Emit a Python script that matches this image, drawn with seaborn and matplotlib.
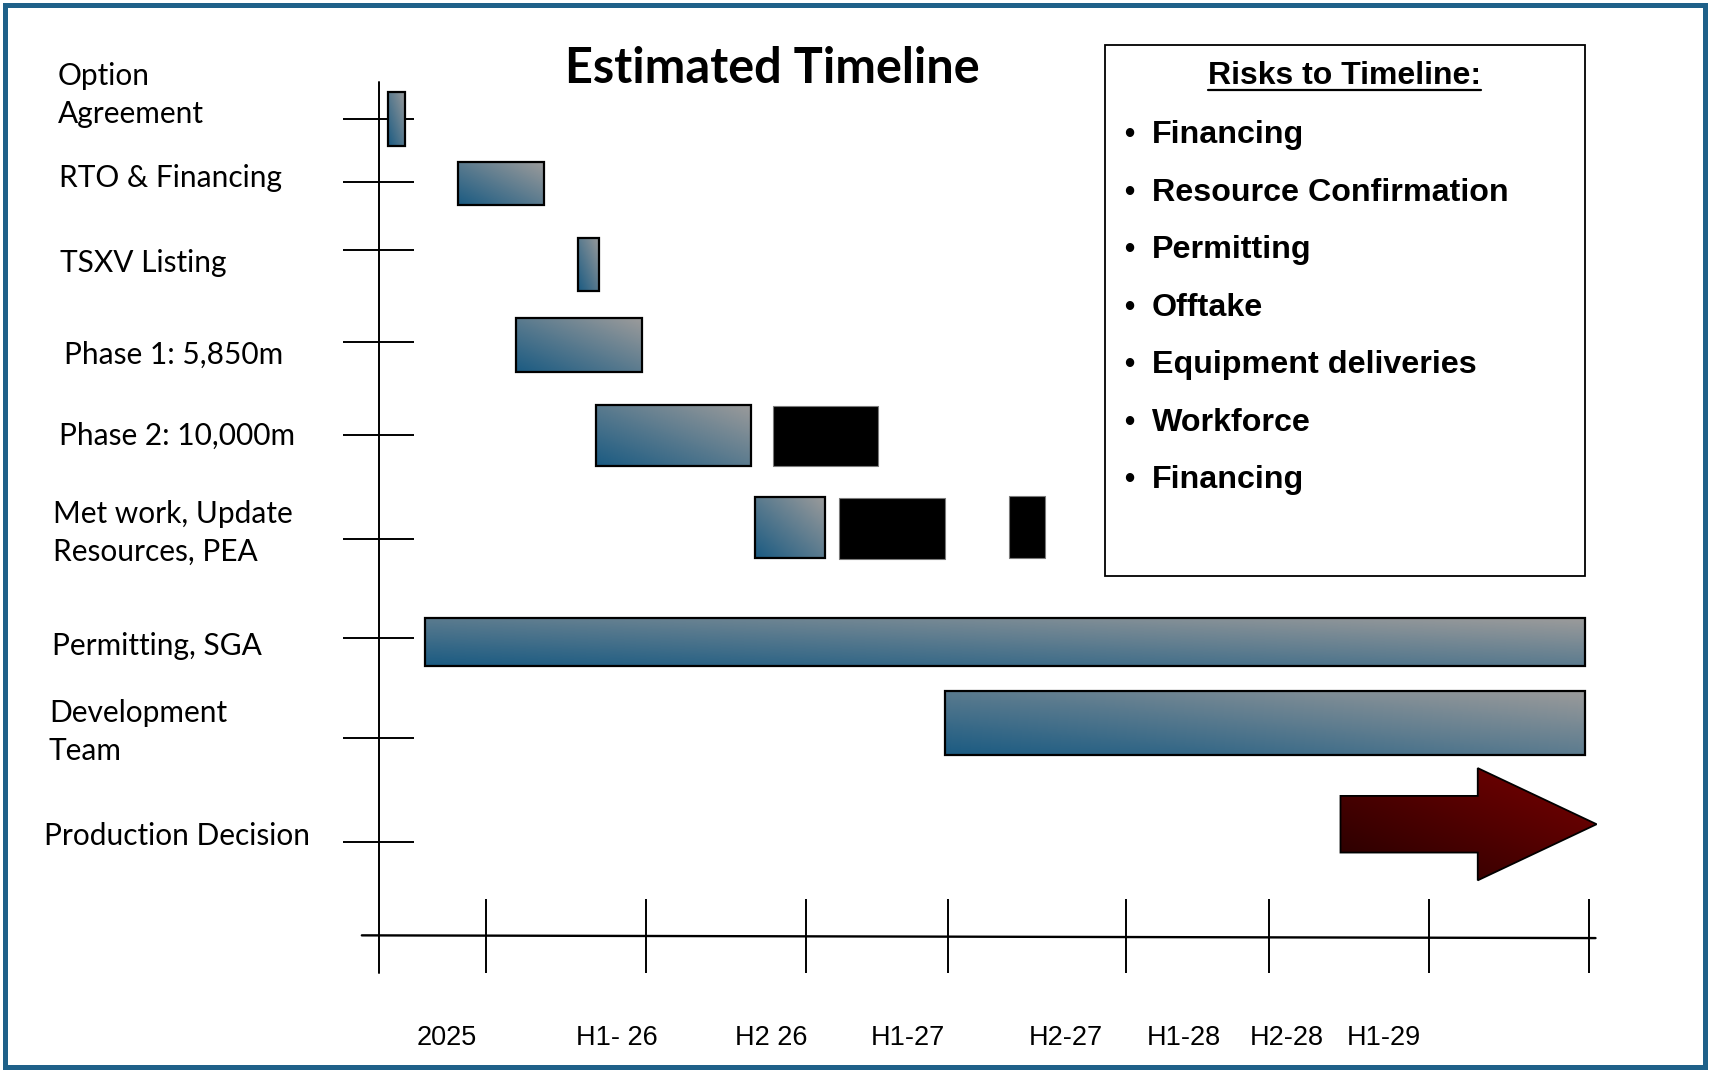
"""Estimated Timeline - gantt style chart with gradient bars."""

import numpy as np
import matplotlib
matplotlib.use("Agg")
import matplotlib.pyplot as plt
from matplotlib.patches import Rectangle, Polygon
import seaborn as sns

# x unit = months from the start of the timeline (vertical axis line = 0)
# y unit = vertical lane position (top = 0)
tasks = [
    "Option\nAgreement", "RTO & Financing", "TSXV Listing", "Phase 1: 5,850m",
    "Phase 2: 10,000m", "Met work, Update\nResources, PEA", "Permitting, SGA",
    "Development\nTeam", "Production Decision",
]
task_rows = [1.09, 1.67, 2.29, 3.14, 3.99, 4.95, 5.86, 6.77, 7.73]
label_x = [-12.04, -12.0, -11.96, -11.8, -12.0, -12.2, -12.24, -12.37, -12.57]
label_y = [0.87, 1.63, 2.41, 3.26, 4.00, 4.89, 5.93, 6.72, 7.67]

# planned activities (gradient bars)
bar_start = [0.33, 2.94, 7.43, 5.14, 8.12, 14.08, 1.71, 21.18]
bar_end = [0.98, 6.16, 8.24, 9.84, 13.92, 16.69, 45.14, 45.14]
bar_mid = [1.09, 1.685, 2.425, 3.165, 4.00, 4.84, 5.89, 6.635]
bar_height = [0.50, 0.39, 0.49, 0.49, 0.56, 0.56, 0.44, 0.59]

# follow-on / contingent work (black blocks)
extra_start = [14.73, 17.22, 23.59]
extra_end = [18.69, 21.18, 24.94]
extra_mid = [4.005, 4.85, 4.835]
extra_height = [0.55, 0.56, 0.57]

# production decision arrow
decision_start = 36.0
decision_head = 41.14
decision_end = 45.59
decision_mid = 7.565
decision_shaft = 0.52
decision_head_h = 1.03

# bottom time axis
period_edges = [4.0, 10.0, 16.0, 21.31, 27.96, 33.31, 39.31, 45.31]
period_labels = ["2025", "H1- 26", "H2 26", "H1-27", "H2-27", "H1-28", "H2-28", "H1-29"]
period_label_x = [2.53, 8.90, 14.69, 19.80, 25.71, 30.12, 34.0, 37.63]

risks = ["Financing", "Resource Confirmation", "Permitting", "Offtake",
         "Equipment deliveries", "Workforce", "Financing"]

sns.set_theme(style="white")
plt.rcParams["font.family"] = ["Lato", "DejaVu Sans"]
plt.rcParams["text.color"] = "black"

blue_cmap = sns.blend_palette(["#1b5b82", "#9b9b9b"], as_cmap=True)
red_cmap = sns.blend_palette(["#240000", "#7a0000"], as_cmap=True)


def gradient_fill(ax, patch, cmap, x0, x1, y_top, y_bottom):
    """Diagonal gradient (bottom-left dark -> top-right light) clipped to patch."""
    u = np.linspace(0, 1, 64)
    z = (u[None, :] + u[:, None]) / 2
    im = ax.imshow(z, cmap=cmap, vmin=0, vmax=1, extent=(x0, x1, y_bottom, y_top),
                   origin="lower", aspect="auto", interpolation="bilinear", zorder=2)
    im.set_clip_path(patch)


fig = plt.figure(figsize=(17.09, 10.71), dpi=100)
ax = fig.add_axes([0, 0, 1, 1])
ax.axis("off")

# axes lines and ticks
ax.plot([0, 0], [0.75, 8.93], color="black", lw=1.4, zorder=1)
ax.hlines(task_rows, -1.35, 1.31, color="black", lw=1.4, zorder=1)
ax.plot([-0.65, 45.55], [8.585, 8.61], color="black", lw=1.7, zorder=1)
ax.vlines(period_edges, 8.25, 8.93, color="black", lw=1.4, zorder=1)

for txt, x, y in zip(tasks, label_x, label_y):
    ax.text(x, y, txt, ha="left", va="center", fontsize=21.5, linespacing=1.42)

for txt, x in zip(period_labels, period_label_x):
    ax.text(x, 9.53, txt, ha="center", va="center", fontsize=19.5,
            family=["Liberation Sans", "DejaVu Sans"])

# gradient bars
widths = np.subtract(bar_end, bar_start)
bars = ax.barh(bar_mid, widths, left=bar_start, height=bar_height,
               facecolor="none", edgecolor="black", linewidth=1.6, zorder=3)
for b, x0, x1, yc, h in zip(bars, bar_start, bar_end, bar_mid, bar_height):
    gradient_fill(ax, b, blue_cmap, x0, x1, yc - h / 2, yc + h / 2)

# black blocks
ax.barh(extra_mid, np.subtract(extra_end, extra_start), left=extra_start,
        height=extra_height, color="black", edgecolor="#7a7a7a", linewidth=0.8, zorder=3)

# arrow
s2, h2 = decision_shaft / 2, decision_head_h / 2
verts = [
    (decision_start, decision_mid - s2), (decision_head, decision_mid - s2),
    (decision_head, decision_mid - h2), (decision_end, decision_mid),
    (decision_head, decision_mid + h2), (decision_head, decision_mid + s2),
    (decision_start, decision_mid + s2),
]
arrow = Polygon(verts, closed=True, facecolor="none", edgecolor="black", lw=1.3, zorder=3)
ax.add_patch(arrow)
gradient_fill(ax, arrow, red_cmap, decision_start, decision_end,
              decision_mid - h2, decision_mid + h2)

# title
ax.text(14.73, 0.63, "Estimated Timeline", ha="center", va="center",
        fontsize=35, fontweight="bold")

# risks box
ax.add_patch(Rectangle((27.18, 0.41), 17.96, 4.88, facecolor="white",
                       edgecolor="black", lw=1.3, zorder=1))
arial = ["Liberation Sans", "DejaVu Sans"]
risk_title = ax.text(36.16, 0.70, "Risks to Timeline:", ha="center", va="center",
                     fontsize=23, fontweight="bold", family=arial)
for i, r in enumerate(risks):
    y = 1.24 + 0.528 * i
    ax.text(28.08, y, "\u2022", ha="center", va="center", fontsize=21,
            fontweight="bold", family=arial)
    ax.text(28.94, y, r, ha="left", va="center", fontsize=23.2,
            fontweight="bold", family=arial)

ax.set_xlim(-14.2, 49.8)
ax.set_ylim(9.83, 0)

# underline the risks heading
fig.canvas.draw()
bb = risk_title.get_window_extent()
inv = ax.transData.inverted()
(ux0, _), (ux1, _) = inv.transform([(bb.x0, bb.y0), (bb.x1, bb.y0)])
ax.plot([ux0, ux1], [0.83, 0.83], color="black", lw=1.6, zorder=4)

# outer frame
fig.add_artist(Rectangle((4.5 / 1709, 4.5 / 1071), 1 - 9 / 1709, 1 - 9 / 1071,
                         transform=fig.transFigure, fill=False,
                         edgecolor="#1f6189", lw=3.6))

ax.set_xlim(-14.2, 49.8)
ax.set_ylim(9.83, 0)
fig.savefig("out.png", dpi=100)
